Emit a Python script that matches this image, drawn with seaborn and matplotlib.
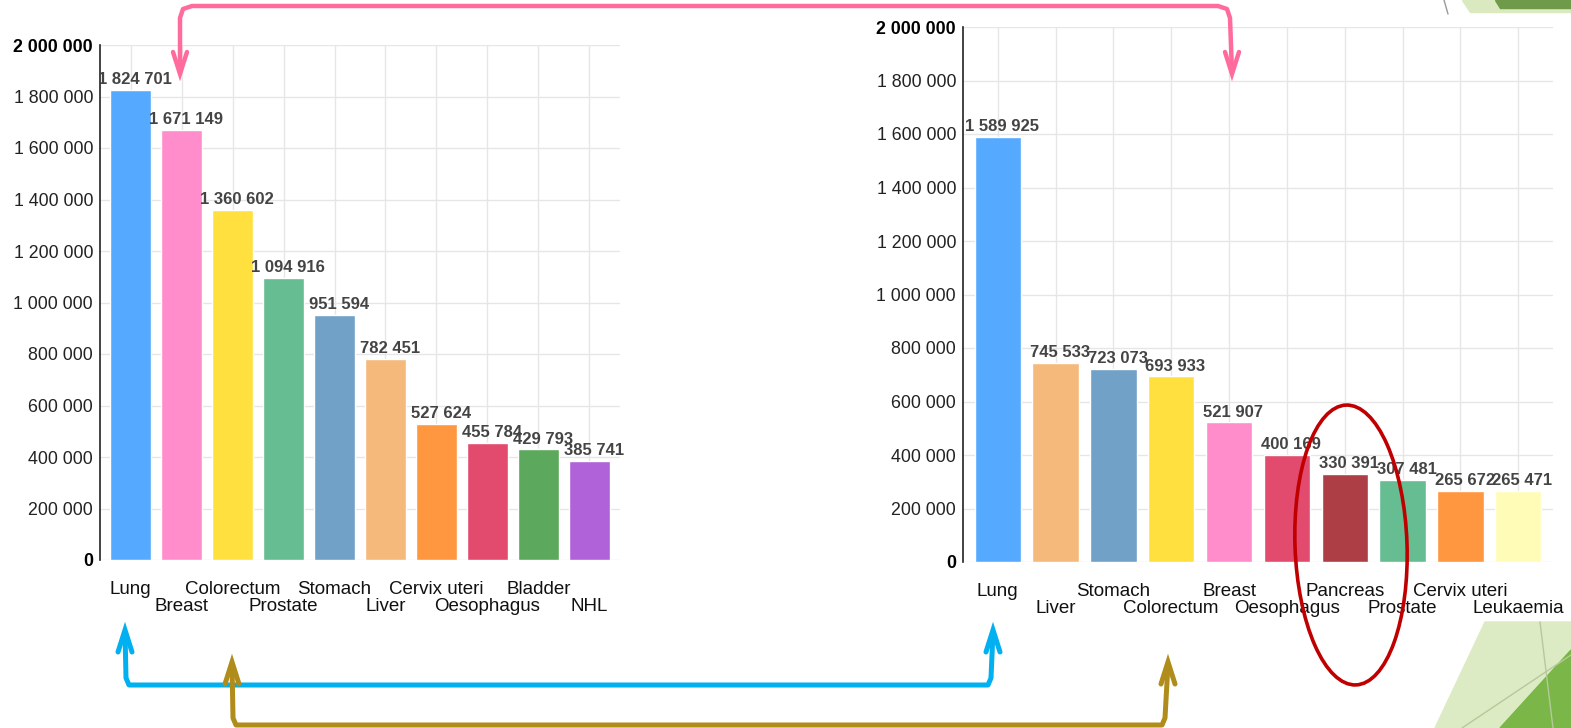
import numpy as np
import pandas as pd
import matplotlib
matplotlib.use("Agg")
import matplotlib.pyplot as plt
from matplotlib.patches import Ellipse, Polygon
import seaborn as sns

# left chart (incidence) and right chart (mortality)
left_sites = ["Lung", "Breast", "Colorectum", "Prostate", "Stomach", "Liver",
              "Cervix uteri", "Oesophagus", "Bladder", "NHL"]
left_values = [1824701, 1671149, 1360602, 1094916, 951594, 782451,
               527624, 455784, 429793, 385741]

right_sites = ["Lung", "Liver", "Stomach", "Colorectum", "Breast", "Oesophagus",
               "Pancreas", "Prostate", "Cervix uteri", "Leukaemia"]
right_values = [1589925, 745533, 723073, 693933, 521907, 400169,
                330391, 307481, 265672, 265471]

site_colors = {
    "Lung": "#55aaff", "Breast": "#ff8ccb", "Colorectum": "#ffe03f",
    "Prostate": "#66bd91", "Stomach": "#72a1c8", "Liver": "#f5b97c",
    "Cervix uteri": "#ff9640", "Oesophagus": "#e24b6e", "Bladder": "#5ca85c",
    "NHL": "#b062d8", "Pancreas": "#ae3e46", "Leukaemia": "#fffcb8",
}

yticks = np.arange(0, 2000001, 200000)

sns.set_theme(style="white")
plt.rcParams['font.family'] = ['Liberation Sans', 'DejaVu Sans']

W, H = 1571, 728
fig = plt.figure(figsize=(W / 100, H / 100), dpi=100)


def px_axes(x0, x1, ytop, ybot):
    return fig.add_axes([x0 / W, (H - ybot) / H, (x1 - x0) / W, (ybot - ytop) / H])


def fmt(v):
    return f"{v:,}".replace(",", " ")


def draw_chart(ax, sites, values):
    df = pd.DataFrame({"site": sites, "cases": values})
    sns.barplot(data=df, x="site", y="cases", hue="site", palette=site_colors,
                saturation=1, width=0.8, legend=False, ax=ax, zorder=2)
    ax.set_ylim(0, 2000000)
    ax.set_xlim(-0.6, len(sites) - 0.4)
    ax.set_yticks(yticks)
    ylabs = [fmt(t) for t in yticks]
    ax.set_yticklabels(ylabs, fontsize=12.8, color="#222222")
    for lab in (ax.get_yticklabels()[0], ax.get_yticklabels()[-1]):
        lab.set_fontweight("bold")
        lab.set_color("black")
    ax.set_xticks(range(len(sites)))
    ax.set_xticklabels([s if i % 2 == 0 else "\n" + s for i, s in enumerate(sites)],
                       fontsize=13.5, color="#111111", linespacing=1.0)
    ax.tick_params(axis="x", length=0, pad=15)
    ax.tick_params(axis="y", length=0, pad=5)
    ax.set_xlabel("")
    ax.set_ylabel("")
    ax.grid(True, color="#e6e6e6", lw=1, zorder=0)
    ax.set_axisbelow(True)
    for s in ["top", "right", "bottom"]:
        ax.spines[s].set_visible(False)
    ax.spines["left"].set_color("#222222")
    ax.spines["left"].set_linewidth(1.2)
    for i, v in enumerate(values):
        ax.annotate(fmt(v), (i, v), xytext=(3, 2), textcoords="offset points",
                    ha="center", va="bottom", fontsize=12, fontweight="bold",
                    color="#444444", zorder=3)


ax1 = px_axes(100, 620, 45, 560)
draw_chart(ax1, left_sites, left_values)
ax2 = px_axes(963, 1553, 27, 562)
draw_chart(ax2, right_sites, right_values)

# overlay for slide decorations and arrows, in pixel coordinates
ov = fig.add_axes([0, 0, 1, 1], zorder=10)
ov.set_xlim(0, W)
ov.set_ylim(H, 0)
ov.axis("off")
ov.patch.set_alpha(0)

# green slide corners
ov.add_patch(Polygon([(1462, 0), (1571, 0), (1571, 12), (1470, 12)], closed=True,
                     color="#dbe9c0", zorder=0))
ov.add_patch(Polygon([(1495, 0), (1571, 0), (1571, 8), (1500, 8)], closed=True,
                     color="#6f9a4a", zorder=0))
ov.plot([1444, 1448], [0, 14], color="#999999", lw=1)
ov.add_patch(Polygon([(1435, 728), (1485, 622), (1571, 622), (1571, 728)], closed=True,
                     color="#dcebc3", zorder=0))
ov.add_patch(Polygon([(1500, 728), (1571, 650), (1571, 728)], closed=True,
                     color="#7ab648", zorder=0))
ov.plot([1462, 1571], [728, 655], color="#b5c99a", lw=1)
ov.plot([1540, 1553], [622, 728], color="#b5c99a", lw=1)


def arrow_path(pts, color, lw, heads):
    xs, ys = zip(*pts)
    ov.plot(xs, ys, color=color, lw=lw, solid_capstyle="round", solid_joinstyle="round")
    for (tx, ty, d) in heads:
        ov.plot([tx - 7, tx, tx + 7], [ty + d * 22, ty, ty + d * 22], color=color,
                lw=lw, solid_capstyle="round", solid_joinstyle="miter")


arrow_path([(180, 72), (180, 18), (183, 9), (192, 6), (1218, 6), (1227, 9),
            (1230, 18), (1232, 72)], "#ff6b9c", 3.2, [(180, 74, -1), (1232, 74, -1)])
arrow_path([(125, 632), (126, 678), (129, 685), (988, 685), (991, 678),
            (993, 632)], "#00b0f0", 3.6, [(125, 630, 1), (993, 630, 1)])
arrow_path([(232, 664), (233, 718), (236, 725), (1162, 725), (1165, 718),
            (1168, 664)], "#b08d1b", 3.6, [(232, 662, 1), (1168, 662, 1)])

ov.add_patch(Ellipse((1351, 545), 112, 280, angle=-2, fill=False, ec="#c00000", lw=2.6))

fig.savefig("out.png", dpi=100, facecolor="white")
